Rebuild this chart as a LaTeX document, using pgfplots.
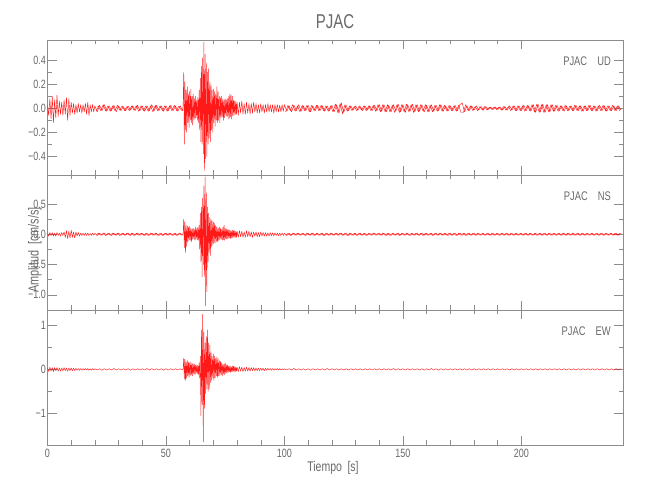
\documentclass[border=0pt]{standalone}
\usepackage{fontspec}
\setmainfont{Liberation Sans}[FakeStretch=0.75]
\usepackage{pgfplots}
\pgfplotsset{compat=1.18}
\definecolor{axisgray}{RGB}{140,140,140}
\definecolor{textgray}{RGB}{105,105,105}
\pgfplotsset{
  seis/.style={
    scale only axis, width=575.8pt, height=135pt,
    xmin=0, xmax=243,
    xtick={0,50,100,150,200}, minor x tick num=4,
    minor y tick num=1,
    tick align=inside, major tick length=9pt, minor tick length=4.5pt,
    axis line style={axisgray, line width=0.5pt},
    every tick/.style={axisgray, line width=0.5pt},
    tick label style={font=\fontsize{12}{14}\selectfont, text=textgray, inner sep=1.5pt},
    xticklabel style={yshift=-2.5pt},
    /pgf/number format/assume math mode=true,
    anchor=south west,
  },
  trace/.style={red, line width=0.45pt, line join=round, no markers, opacity=0.9},
}
\begin{document}
\begin{tikzpicture}
\useasboundingbox (0pt,0pt) rectangle (650pt,500pt);
% ---------------- UD ----------------
\begin{axis}[seis, at={(47.5pt,325pt)}, ymin=-0.556, ymax=0.569,
  ytick={-0.4,-0.2,0,0.2,0.4}, yticklabels={−0.4,−0.2,0.0,0.2,0.4}, xticklabels={}]
\addplot[trace] coordinates {
(0,0.03)(0.5,-0.06)(1,0.08)(1.5,-0.09)(2,0.10)(2.5,-0.12)(3,0.07)(3.5,-0.08)(4,0.11)(4.5,-0.07)(5,0.06)(5.5,-0.05)(6,0.05)(6.5,-0.06)(7,0.07)(7.5,-0.05)(8,0.09)(8.5,-0.10)(9,0.08)(9.5,-0.06)
(10,0.05)(10.5,-0.04)(11,0.04)(11.5,-0.05)(12,0.03)(12.5,-0.04)(13,0.04)(13.5,-0.03)(14,0.03)(14.5,-0.04)(15,0.03)(15.5,-0.03)(16,0.04)(16.5,-0.05)(17,0.05)(17.5,-0.06)(18,0.03)(18.5,-0.03)(19,0.03)(19.5,-0.03)
(20,0.02)(21,-0.03)(22,0.025)(23,-0.02)(24,0.03)(25,-0.025)(26,0.02)(27,-0.02)(28,0.025)(29,-0.03)(30,0.02)(31,-0.02)(32,0.015)(33,-0.02)(34,0.02)(35,-0.015)(36,0.02)(37,-0.02)(38,0.025)(39,-0.02)
(40,0.02)(41,-0.025)(42,0.02)(43,-0.02)(44,0.03)(45,-0.02)(46,0.025)(47,-0.02)(48,0.02)(49,-0.025)(50,0.02)(51,-0.02)(52,0.025)(53,-0.02)(54,0.02)(55,-0.025)(56,0.02)(57,-0.02)
(57.25,0.03)(57.5,0.30)(57.75,-0.30)(58,0.22)(58.25,-0.18)(58.5,0.15)(58.75,-0.20)(59,0.18)(59.25,-0.12)(59.5,0.12)(59.75,-0.16)
(60,0.14)(60.25,-0.10)(60.5,0.16)(60.75,-0.12)(61,0.10)(61.25,-0.14)(61.5,0.12)(61.75,-0.10)(62,0.08)(62.25,-0.09)(62.5,0.10)(62.75,-0.08)(63,0.07)(63.25,-0.10)(63.5,0.09)(63.75,-0.12)
(64,0.15)(64.25,-0.18)(64.5,0.25)(64.75,-0.28)(65,0.35)(65.25,-0.30)(65.5,0.42)(65.75,-0.38)(66,0.55)(66.25,-0.52)(66.5,0.45)(66.75,-0.42)(67,0.38)(67.25,-0.40)(67.5,0.30)(67.75,-0.30)
(68,0.33)(68.25,-0.25)(68.5,0.22)(68.75,-0.28)(69,0.20)(69.25,-0.18)(69.5,0.15)(69.75,-0.20)
(70,0.16)(70.25,-0.12)(70.5,0.14)(70.75,-0.15)(71,0.12)(71.25,-0.10)(71.5,0.18)(71.75,-0.12)(72,0.14)(72.25,-0.10)(72.5,0.10)(72.75,-0.12)(73,0.09)(73.25,-0.08)(73.5,0.10)(73.75,-0.07)
(74,0.08)(74.25,-0.10)(74.5,0.07)(74.75,-0.08)(75,0.08)(75.25,-0.06)(75.5,0.07)(75.75,-0.07)(76,0.08)(76.25,-0.09)(76.5,0.10)(76.75,-0.08)(77,0.12)(77.25,-0.07)(77.5,0.11)(77.75,-0.09)
(78,0.10)(78.25,-0.06)(78.5,0.07)(78.75,-0.06)(79,0.06)(79.25,-0.05)(79.5,0.06)(79.75,-0.05)
(80,0.05)(80.5,-0.06)(81,0.05)(81.5,-0.04)(82,0.06)(82.5,-0.05)(83,0.04)(83.5,-0.05)(84,0.05)(84.5,-0.04)(85,0.04)(85.5,-0.05)(86,0.04)(86.5,-0.04)(87,0.05)(87.5,-0.03)(88,0.04)(88.5,-0.04)(89,0.03)(89.5,-0.04)
(90,0.04)(90.5,-0.03)(91,0.03)(91.5,-0.04)(92,0.03)(92.5,-0.03)(93,0.04)(93.5,-0.03)(94,0.03)(94.5,-0.03)(95,0.03)(95.5,-0.04)(96,0.03)(96.5,-0.03)(97,0.03)(97.5,-0.03)(98,0.025)(98.5,-0.03)(99,0.03)(99.5,-0.025)
(100,0.03)(101,-0.025)(102,0.02)(103,-0.03)(104,0.025)(105,-0.02)(106,0.03)(107,-0.025)(108,0.02)(109,-0.02)(110,0.025)(111,-0.03)(112,0.02)(113,-0.02)(114,0.025)(115,-0.02)(116,0.02)(117,-0.025)(118,0.02)(119,-0.02)
(120,0.025)(121,-0.03)(122,0.03)(123,-0.04)(124,0.045)(125,-0.035)(126,0.025)(127,-0.02)(128,0.02)(129,-0.015)(130,0.02)(131,-0.015)(132,0.015)(133,-0.02)(134,0.02)(135,-0.015)(136,0.02)(137,-0.02)(138,0.025)(139,-0.02)
(140,0.03)(141,-0.025)(142,0.03)(143,-0.03)(144,0.025)(145,-0.03)(146,0.03)(147,-0.025)(148,0.035)(149,-0.03)(150,0.03)(151,-0.035)(152,0.03)(153,-0.025)(154,0.035)(155,-0.03)(156,0.03)(157,-0.025)(158,0.03)(159,-0.03)
(160,0.025)(161,-0.03)(162,0.03)(163,-0.025)(164,0.025)(165,-0.02)(166,0.03)(167,-0.025)(168,0.02)(169,-0.025)(170,0.02)(171,-0.02)(172,0.025)(173,-0.02)(174,0.03)(175,0.045)(176,-0.03)(177,0.02)(178,-0.02)(179,0.02)
(180,-0.015)(181,0.02)(182,-0.015)(183,0.015)(184,-0.015)(185,0.015)(186,-0.01)(187,0.01)(188,-0.01)(189,0.01)(190,-0.01)(191,0.01)(192,-0.015)(193,0.015)(194,-0.015)(195,0.02)(196,-0.015)(197,0.02)(198,-0.02)(199,0.02)
(200,-0.02)(201,0.025)(202,-0.02)(203,0.02)(204,-0.025)(205,0.03)(206,-0.035)(207,0.035)(208,-0.03)(209,0.035)(210,-0.035)(211,0.03)(212,-0.03)(213,0.03)(214,-0.025)(215,0.025)(216,-0.02)(217,0.02)(218,-0.025)(219,0.02)
(220,-0.02)(221,0.02)(222,-0.02)(223,0.025)(224,-0.02)(225,0.02)(226,-0.025)(227,0.02)(228,-0.02)(229,0.025)(230,-0.02)(231,0.02)(232,-0.02)(233,0.025)(234,-0.02)(235,0.02)(236,-0.025)(237,0.02)(238,-0.02)(239,0.02)
(240,-0.02)(241,0.02)(242,-0.015)
};
\addplot[trace] coordinates {
(20.5,-0.025)(21.5,0.02)(22.5,-0.02)(23.5,0.03)(24.5,-0.02)(25.5,0.02)(26.5,-0.025)(27.5,0.02)(28.5,-0.02)(29.5,0.025)(30.5,-0.015)(31.5,0.02)(32.5,-0.02)(33.5,0.015)(34.5,-0.02)(35.5,0.02)(36.5,-0.015)(37.5,0.02)(38.5,-0.025)(39.5,0.02)
(40.5,-0.02)(41.5,0.02)(42.5,-0.025)(43.5,0.02)(44.5,-0.03)(45.5,0.025)(46.5,-0.02)(47.5,0.02)(48.5,-0.02)(49.5,0.02)(50.5,-0.025)(51.5,0.02)(52.5,-0.02)(53.5,0.025)(54.5,-0.02)(55.5,0.02)(56.5,-0.02)
};
\addplot[trace] coordinates {
(100.5,-0.03)(101.5,0.025)(102.5,-0.02)(103.5,0.03)(104.5,-0.025)(105.5,0.02)(106.5,-0.03)(107.5,0.025)(108.5,-0.02)(109.5,0.025)(110.5,-0.03)(111.5,0.025)(112.5,-0.02)(113.5,0.025)(114.5,-0.02)(115.5,0.025)(116.5,-0.02)(117.5,0.02)(118.5,-0.025)(119.5,0.02)
(120.5,-0.03)(121.5,0.035)(122.5,-0.035)(123.5,0.04)(124.5,-0.045)(125.5,0.03)(126.5,-0.025)(127.5,0.02)(128.5,-0.02)(129.5,0.015)(130.5,-0.02)(131.5,0.02)(132.5,-0.015)(133.5,0.02)(134.5,-0.02)(135.5,0.02)(136.5,-0.02)(137.5,0.025)(138.5,-0.025)(139.5,0.03)
(140.5,-0.03)(141.5,0.03)(142.5,-0.03)(143.5,0.03)(144.5,-0.03)(145.5,0.025)(146.5,-0.035)(147.5,0.03)(148.5,-0.035)(149.5,0.03)(150.5,-0.03)(151.5,0.035)(152.5,-0.03)(153.5,0.03)(154.5,-0.035)(155.5,0.03)(156.5,-0.03)(157.5,0.03)(158.5,-0.025)(159.5,0.03)
(160.5,-0.03)(161.5,0.025)(162.5,-0.03)(163.5,0.025)(164.5,-0.025)(165.5,0.03)(166.5,-0.025)(167.5,0.025)(168.5,-0.02)(169.5,0.025)(170.5,-0.02)(171.5,0.02)(172.5,-0.025)(173.5,0.025)(174.5,-0.035)(175.5,-0.035)(176.5,0.03)(177.5,-0.02)(178.5,0.02)(179.5,-0.02)
(180.5,0.015)(181.5,-0.02)(182.5,0.015)(183.5,-0.015)(184.5,0.015)(185.5,-0.015)(186.5,0.01)(187.5,-0.01)(188.5,0.01)(189.5,-0.01)(190.5,0.01)(191.5,-0.015)(192.5,0.015)(193.5,-0.015)(194.5,0.015)(195.5,-0.02)(196.5,0.02)(197.5,-0.02)(198.5,0.02)(199.5,-0.02)
(200.5,0.02)(201.5,-0.025)(202.5,0.025)(203.5,-0.02)(204.5,0.03)(205.5,-0.03)(206.5,0.035)(207.5,-0.035)(208.5,0.03)(209.5,-0.035)(210.5,0.03)(211.5,-0.03)(212.5,0.03)(213.5,-0.025)(214.5,0.025)(215.5,-0.025)(216.5,0.02)(217.5,-0.02)(218.5,0.025)(219.5,-0.02)
(220.5,0.02)(221.5,-0.02)(222.5,0.025)(223.5,-0.02)(224.5,0.02)(225.5,-0.025)(226.5,0.02)(227.5,-0.02)(228.5,0.025)(229.5,-0.02)(230.5,0.02)(231.5,-0.025)(232.5,0.02)(233.5,-0.02)(234.5,0.025)(235.5,-0.02)(236.5,0.02)(237.5,-0.02)(238.5,0.025)(239.5,-0.02)
(240.5,0.02)(241.5,-0.02)
};
\end{axis}
% ---------------- NS ----------------
\begin{axis}[seis, at={(47.5pt,190pt)}, ymin=-1.25, ymax=0.98,
  ytick={-1,-0.5,0,0.5}, yticklabels={−1.0,−0.5,0.0,0.5}, xticklabels={}]
\addplot[trace] coordinates {
(0,0.02)(0.5,-0.03)(1,0.03)(1.5,-0.02)(2,0.03)(2.5,-0.03)(3,0.02)(3.5,-0.03)(4,0.03)(4.5,-0.02)(5,0.02)(5.5,-0.03)(6,0.03)(6.5,-0.02)(7,0.04)(7.5,-0.05)(8,0.06)(8.5,-0.07)(9,0.05)(9.5,-0.06)
(10,0.07)(10.5,-0.05)(11,0.04)(11.5,-0.06)(12,0.04)(12.5,-0.03)(13,0.03)(13.5,-0.03)(14,0.02)(14.5,-0.02)(15,0.02)(15.5,-0.02)(16,0.02)(16.5,-0.02)(17,0.02)(17.5,-0.02)(18,0.015)(18.5,-0.02)(19,0.02)(19.5,-0.015)
(20,0.015)(21,-0.02)(22,0.015)(23,-0.015)(24,0.02)(25,-0.015)(26,0.015)(27,-0.02)(28,0.015)(29,-0.015)(30,0.02)(31,-0.015)(32,0.015)(33,-0.015)(34,0.02)(35,-0.02)(36,0.015)(37,-0.015)(38,0.02)(39,-0.015)
(40,0.015)(41,-0.02)(42,0.015)(43,-0.015)(44,0.02)(45,-0.015)(46,0.015)(47,-0.02)(48,0.015)(49,-0.015)(50,0.02)(51,-0.015)(52,0.015)(53,-0.02)(54,0.015)(55,-0.015)(56,0.02)(57,-0.015)
(57.25,0.02)(57.5,0.25)(57.75,-0.22)(58,0.20)(58.25,-0.30)(58.5,0.15)(58.75,-0.20)(59,0.14)(59.25,-0.12)(59.5,0.12)(59.75,-0.10)
(60,0.13)(60.25,-0.10)(60.5,0.10)(60.75,-0.12)(61,0.09)(61.25,-0.08)(61.5,0.10)(61.75,-0.08)(62,0.08)(62.25,-0.10)(62.5,0.12)(62.75,-0.08)(63,0.10)(63.25,-0.09)(63.5,0.12)(63.75,-0.10)
(64,0.15)(64.25,-0.25)(64.5,0.35)(64.75,-0.45)(65,0.45)(65.25,-0.70)(65.5,0.60)(65.75,-0.50)(66,0.80)(66.25,-0.70)(66.5,0.95)(66.75,-1.18)(67,0.70)(67.25,-0.95)(67.5,0.45)(67.75,-0.45)
(68,0.35)(68.25,-0.30)(68.5,0.28)(68.75,-0.35)(69,0.25)(69.25,-0.20)(69.5,0.22)(69.75,-0.18)
(70,0.20)(70.25,-0.15)(70.5,0.18)(70.75,-0.14)(71,0.15)(71.25,-0.12)(71.5,0.12)(71.75,-0.12)(72,0.10)(72.25,-0.10)(72.5,0.12)(72.75,-0.10)(73,0.10)(73.25,-0.08)(73.5,0.08)(73.75,-0.10)
(74,0.12)(74.25,-0.09)(74.5,0.15)(74.75,-0.10)(75,0.10)(75.25,-0.08)(75.5,0.09)(75.75,-0.08)(76,0.08)(76.25,-0.07)(76.5,0.08)(76.75,-0.06)(77,0.07)(77.25,-0.07)(77.5,0.06)(77.75,-0.06)
(78,0.07)(78.25,-0.06)(78.5,0.06)(78.75,-0.05)(79,0.06)(79.25,-0.05)(79.5,0.05)(79.75,-0.05)
(80,0.05)(80.5,-0.05)(81,0.06)(81.5,-0.04)(82,0.05)(82.5,-0.05)(83,0.04)(83.5,-0.05)(84,0.06)(84.5,-0.04)(85,0.05)(85.5,-0.04)(86,0.04)(86.5,-0.05)(87,0.04)(87.5,-0.03)(88,0.04)(88.5,-0.04)(89,0.03)(89.5,-0.04)
(90,0.04)(90.5,-0.03)(91,0.03)(91.5,-0.03)(92,0.03)(92.5,-0.03)(93,0.025)(93.5,-0.03)(94,0.03)(94.5,-0.025)(95,0.025)(95.5,-0.025)(96,0.025)(96.5,-0.02)(97,0.02)(97.5,-0.025)(98,0.02)(98.5,-0.02)(99,0.02)(99.5,-0.02)
(100,0.015)(101,-0.02)(102,0.015)(103,-0.015)(104,0.02)(105,-0.015)(106,0.015)(107,-0.015)(108,0.015)(109,-0.02)(110,0.015)(111,-0.015)(112,0.02)(113,-0.015)(114,0.015)(115,-0.015)(116,0.015)(117,-0.02)(118,0.015)(119,-0.015)
(120,0.015)(121,-0.015)(122,0.02)(123,-0.015)(124,0.015)(125,-0.015)(126,0.015)(127,-0.02)(128,0.015)(129,-0.015)(130,0.015)(131,-0.015)(132,0.02)(133,-0.015)(134,0.015)(135,-0.015)(136,0.015)(137,-0.015)(138,0.02)(139,-0.015)
(140,0.015)(141,-0.015)(142,0.015)(143,-0.02)(144,0.015)(145,-0.015)(146,0.015)(147,-0.015)(148,0.02)(149,-0.015)(150,0.015)(151,-0.015)(152,0.015)(153,-0.02)(154,0.015)(155,-0.015)(156,0.015)(157,-0.015)(158,0.02)(159,-0.015)
(160,0.015)(161,-0.015)(162,0.015)(163,-0.015)(164,0.02)(165,-0.015)(166,0.015)(167,-0.015)(168,0.015)(169,-0.02)(170,0.015)(171,-0.015)(172,0.015)(173,-0.015)(174,0.02)(175,-0.015)(176,0.015)(177,-0.015)(178,0.015)(179,-0.015)
(180,0.015)(181,-0.015)(182,0.015)(183,-0.015)(184,0.015)(185,-0.015)(186,0.015)(187,-0.015)(188,0.015)(189,-0.015)(190,0.015)(191,-0.015)(192,0.015)(193,-0.015)(194,0.015)(195,-0.015)(196,0.015)(197,-0.015)(198,0.015)(199,-0.015)
(200,0.015)(201,-0.015)(202,0.015)(203,-0.015)(204,0.015)(205,-0.015)(206,0.015)(207,-0.015)(208,0.015)(209,-0.015)(210,0.015)(211,-0.015)(212,0.015)(213,-0.015)(214,0.015)(215,-0.015)(216,0.015)(217,-0.015)(218,0.015)(219,-0.015)
(220,0.015)(221,-0.015)(222,0.015)(223,-0.015)(224,0.015)(225,-0.015)(226,0.015)(227,-0.015)(228,0.015)(229,-0.015)(230,0.015)(231,-0.015)(232,0.015)(233,-0.015)(234,0.015)(235,-0.015)(236,0.015)(237,-0.015)(238,0.015)(239,-0.015)
(240,0.015)(241,-0.015)(242,0.015)
};
\addplot[trace] coordinates {
(20.5,-0.015)(21.5,0.02)(22.5,-0.015)(23.5,0.015)(24.5,-0.02)(25.5,0.015)(26.5,-0.015)(27.5,0.02)(28.5,-0.015)(29.5,0.015)(30.5,-0.02)(31.5,0.015)(32.5,-0.015)(33.5,0.02)(34.5,-0.015)(35.5,0.015)(36.5,-0.02)(37.5,0.015)(38.5,-0.015)(39.5,0.02)
(40.5,-0.015)(41.5,0.015)(42.5,-0.02)(43.5,0.015)(44.5,-0.015)(45.5,0.02)(46.5,-0.015)(47.5,0.015)(48.5,-0.02)(49.5,0.015)(50.5,-0.015)(51.5,0.02)(52.5,-0.015)(53.5,0.015)(54.5,-0.02)(55.5,0.015)(56.5,-0.015)
};
\addplot[trace] coordinates {
(100.5,-0.015)(101.5,0.015)(102.5,-0.02)(103.5,0.015)(104.5,-0.015)(105.5,0.02)(106.5,-0.015)(107.5,0.015)(108.5,-0.015)(109.5,0.02)(110.5,-0.015)(111.5,0.015)(112.5,-0.02)(113.5,0.015)(114.5,-0.015)(115.5,0.015)(116.5,-0.02)(117.5,0.015)(118.5,-0.015)(119.5,0.02)
(120.5,-0.015)(121.5,0.015)(122.5,-0.015)(123.5,0.02)(124.5,-0.015)(125.5,0.015)(126.5,-0.02)(127.5,0.015)(128.5,-0.015)(129.5,0.015)(130.5,-0.02)(131.5,0.015)(132.5,-0.015)(133.5,0.015)(134.5,-0.02)(135.5,0.015)(136.5,-0.015)(137.5,0.02)(138.5,-0.015)(139.5,0.015)
(140.5,-0.015)(141.5,0.02)(142.5,-0.015)(143.5,0.015)(144.5,-0.02)(145.5,0.015)(146.5,-0.015)(147.5,0.015)(148.5,-0.02)(149.5,0.015)(150.5,-0.015)(151.5,0.02)(152.5,-0.015)(153.5,0.015)(154.5,-0.015)(155.5,0.02)(156.5,-0.015)(157.5,0.015)(158.5,-0.02)(159.5,0.015)
(160.5,-0.015)(161.5,0.015)(162.5,-0.02)(163.5,0.015)(164.5,-0.015)(165.5,0.02)(166.5,-0.015)(167.5,0.015)(168.5,-0.015)(169.5,0.02)(170.5,-0.015)(171.5,0.015)(172.5,-0.02)(173.5,0.015)(174.5,-0.015)(175.5,0.015)(176.5,-0.02)(177.5,0.015)(178.5,-0.015)(179.5,0.015)
(180.5,-0.015)(181.5,0.015)(182.5,-0.015)(183.5,0.015)(184.5,-0.015)(185.5,0.015)(186.5,-0.015)(187.5,0.015)(188.5,-0.015)(189.5,0.015)(190.5,-0.015)(191.5,0.015)(192.5,-0.015)(193.5,0.015)(194.5,-0.015)(195.5,0.015)(196.5,-0.015)(197.5,0.015)(198.5,-0.015)(199.5,0.015)
(200.5,-0.015)(201.5,0.015)(202.5,-0.015)(203.5,0.015)(204.5,-0.015)(205.5,0.015)(206.5,-0.015)(207.5,0.015)(208.5,-0.015)(209.5,0.015)(210.5,-0.015)(211.5,0.015)(212.5,-0.015)(213.5,0.015)(214.5,-0.015)(215.5,0.015)(216.5,-0.015)(217.5,0.015)(218.5,-0.015)(219.5,0.015)
(220.5,-0.015)(221.5,0.015)(222.5,-0.015)(223.5,0.015)(224.5,-0.015)(225.5,0.015)(226.5,-0.015)(227.5,0.015)(228.5,-0.015)(229.5,0.015)(230.5,-0.015)(231.5,0.015)(232.5,-0.015)(233.5,0.015)(234.5,-0.015)(235.5,0.015)(236.5,-0.015)(237.5,0.015)(238.5,-0.015)(239.5,0.015)
(240.5,-0.015)(241.5,0.015)
};
\end{axis}
% ---------------- EW ----------------
\begin{axis}[seis, at={(47.5pt,55pt)}, ymin=-1.72, ymax=1.35,
  ytick={-1,0,1}, yticklabels={−1,0,1}, xticklabels={0,50,100,150,200}]
\addplot[trace] coordinates {
(0,0.03)(0.5,-0.05)(1,0.05)(1.5,-0.04)(2,0.04)(2.5,-0.05)(3,0.04)(3.5,-0.03)(4,0.04)(4.5,-0.04)(5,0.03)(5.5,-0.04)(6,0.03)(6.5,-0.03)(7,0.04)(7.5,-0.03)(8,0.03)(8.5,-0.04)(9,0.03)(9.5,-0.03)
(10,0.03)(10.5,-0.03)(11,0.025)(11.5,-0.03)(12,0.025)(12.5,-0.02)(13,0.02)(13.5,-0.025)(14,0.02)(14.5,-0.02)(15,0.02)(15.5,-0.02)(16,0.02)(16.5,-0.015)(17,0.02)(17.5,-0.02)(18,0.015)(18.5,-0.02)(19,0.015)(19.5,-0.015)
(20,0.015)(21,-0.015)(22,0.015)(23,-0.02)(24,0.015)(25,-0.015)(26,0.015)(27,-0.015)(28,0.02)(29,-0.015)(30,0.015)(31,-0.015)(32,0.015)(33,-0.015)(34,0.015)(35,-0.02)(36,0.015)(37,-0.015)(38,0.015)(39,-0.015)
(40,0.015)(41,-0.015)(42,0.02)(43,-0.015)(44,0.015)(45,-0.015)(46,0.015)(47,-0.015)(48,0.015)(49,-0.02)(50,0.015)(51,-0.015)(52,0.015)(53,-0.015)(54,0.015)(55,-0.015)(56,0.015)(57,-0.015)
(57.25,0.02)(57.5,0.25)(57.75,-0.22)(58,0.23)(58.25,-0.25)(58.5,0.18)(58.75,-0.20)(59,0.20)(59.25,-0.15)(59.5,0.16)(59.75,-0.18)
(60,0.15)(60.25,-0.14)(60.5,0.17)(60.75,-0.12)(61,0.14)(61.25,-0.15)(61.5,0.12)(61.75,-0.10)(62,0.12)(62.25,-0.12)(62.5,0.10)(62.75,-0.09)(63,0.10)(63.25,-0.10)(63.5,0.09)(63.75,-0.12)
(64,0.15)(64.25,-0.20)(64.5,0.30)(64.75,-1.05)(65,0.90)(65.25,-0.80)(65.5,1.25)(65.75,-1.65)(66,0.85)(66.25,-0.90)(66.5,0.60)(66.75,-0.55)(67,0.75)(67.25,-0.45)(67.5,0.90)(67.75,-0.50)
(68,0.60)(68.25,-0.45)(68.5,0.55)(68.75,-0.30)(69,0.40)(69.25,-0.25)(69.5,0.30)(69.75,-0.20)
(70,0.35)(70.25,-0.25)(70.5,0.30)(70.75,-0.20)(71,0.25)(71.25,-0.15)(71.5,0.28)(71.75,-0.18)(72,0.25)(72.25,-0.15)(72.5,0.20)(72.75,-0.15)(73,0.18)(73.25,-0.12)(73.5,0.15)(73.75,-0.15)
(74,0.12)(74.25,-0.10)(74.5,0.12)(74.75,-0.12)(75,0.15)(75.25,-0.10)(75.5,0.10)(75.75,-0.08)(76,0.10)(76.25,-0.07)(76.5,0.08)(76.75,-0.06)(77,0.08)(77.25,-0.07)(77.5,0.06)(77.75,-0.05)
(78,0.08)(78.25,-0.06)(78.5,0.07)(78.75,-0.05)(79,0.06)(79.25,-0.05)(79.5,0.05)(79.75,-0.04)
(80,0.05)(80.5,-0.05)(81,0.06)(81.5,-0.04)(82,0.05)(82.5,-0.05)(83,0.04)(83.5,-0.04)(84,0.05)(84.5,-0.04)(85,0.04)(85.5,-0.04)(86,0.04)(86.5,-0.03)(87,0.04)(87.5,-0.03)(88,0.03)(88.5,-0.03)(89,0.03)(89.5,-0.03)
(90,0.03)(90.5,-0.025)(91,0.025)(91.5,-0.03)(92,0.025)(92.5,-0.02)(93,0.025)(93.5,-0.02)(94,0.02)(94.5,-0.02)(95,0.02)(95.5,-0.02)(96,0.02)(96.5,-0.015)(97,0.02)(97.5,-0.015)(98,0.015)(98.5,-0.015)(99,0.015)(99.5,-0.015)
(100,0.015)(101,-0.015)(102,0.015)(103,-0.015)(104,0.02)(105,-0.015)(106,0.015)(107,-0.015)(108,0.015)(109,-0.015)(110,0.015)(111,-0.02)(112,0.015)(113,-0.015)(114,0.015)(115,-0.015)(116,0.015)(117,-0.015)(118,0.02)(119,-0.015)
(120,0.015)(121,-0.015)(122,0.015)(123,-0.015)(124,0.015)(125,-0.015)(126,0.015)(127,-0.015)(128,0.015)(129,-0.015)(130,0.015)(131,-0.015)(132,0.015)(133,-0.015)(134,0.015)(135,-0.015)(136,0.015)(137,-0.015)(138,0.015)(139,-0.015)
(140,0.015)(141,-0.015)(142,0.015)(143,-0.015)(144,0.015)(145,-0.015)(146,0.02)(147,-0.015)(148,0.015)(149,-0.015)(150,0.015)(151,-0.015)(152,0.015)(153,-0.015)(154,0.015)(155,-0.015)(156,0.015)(157,-0.015)(158,0.015)(159,-0.02)
(160,0.015)(161,-0.015)(162,0.02)(163,-0.015)(164,0.015)(165,-0.02)(166,0.015)(167,-0.015)(168,0.015)(169,-0.015)(170,0.015)(171,-0.015)(172,0.015)(173,-0.015)(174,0.015)(175,-0.015)(176,0.015)(177,-0.015)(178,0.015)(179,-0.015)
(180,0.015)(181,-0.015)(182,0.015)(183,-0.015)(184,0.015)(185,-0.015)(186,0.015)(187,-0.015)(188,0.015)(189,-0.015)(190,0.015)(191,-0.015)(192,0.015)(193,-0.015)(194,0.015)(195,-0.015)(196,0.015)(197,-0.015)(198,0.015)(199,-0.015)
(200,0.015)(201,-0.015)(202,0.015)(203,-0.015)(204,0.015)(205,-0.015)(206,0.015)(207,-0.015)(208,0.015)(209,-0.015)(210,0.015)(211,-0.015)(212,0.015)(213,-0.015)(214,0.015)(215,-0.015)(216,0.015)(217,-0.015)(218,0.015)(219,-0.015)
(220,0.015)(221,-0.015)(222,0.015)(223,-0.015)(224,0.015)(225,-0.015)(226,0.015)(227,-0.015)(228,0.015)(229,-0.015)(230,0.015)(231,-0.015)(232,0.015)(233,-0.015)(234,0.015)(235,-0.015)(236,0.015)(237,-0.015)(238,0.015)(239,-0.015)
(240,0.015)(241,-0.015)(242,0.015)
};
\end{axis}
% ---------------- texts ----------------
\node[text=textgray, font=\fontsize{20}{24}\selectfont] at (335pt,478pt) {PJAC};
\node[text=textgray, font=\fontsize{14}{16}\selectfont] at (333pt,32pt) {Tiempo\hspace{0.4em}[s]};
\node[text=textgray, font=\fontsize{14.5}{16}\selectfont, rotate=90] at (35pt,250pt) {Amplitud\hspace{0.4em}[cm/s/s]};
\node[text=textgray, font=\fontsize{12.5}{14}\selectfont, anchor=east, inner sep=0pt] at (611pt,439pt) {PJAC\hspace{10pt}UD};
\node[text=textgray, font=\fontsize{12.5}{14}\selectfont, anchor=east, inner sep=0pt] at (611pt,303.5pt) {PJAC\hspace{10pt}NS};
\node[text=textgray, font=\fontsize{12.5}{14}\selectfont, anchor=east, inner sep=0pt] at (611pt,169pt) {PJAC\hspace{10pt}EW};
\end{tikzpicture}
\end{document}
